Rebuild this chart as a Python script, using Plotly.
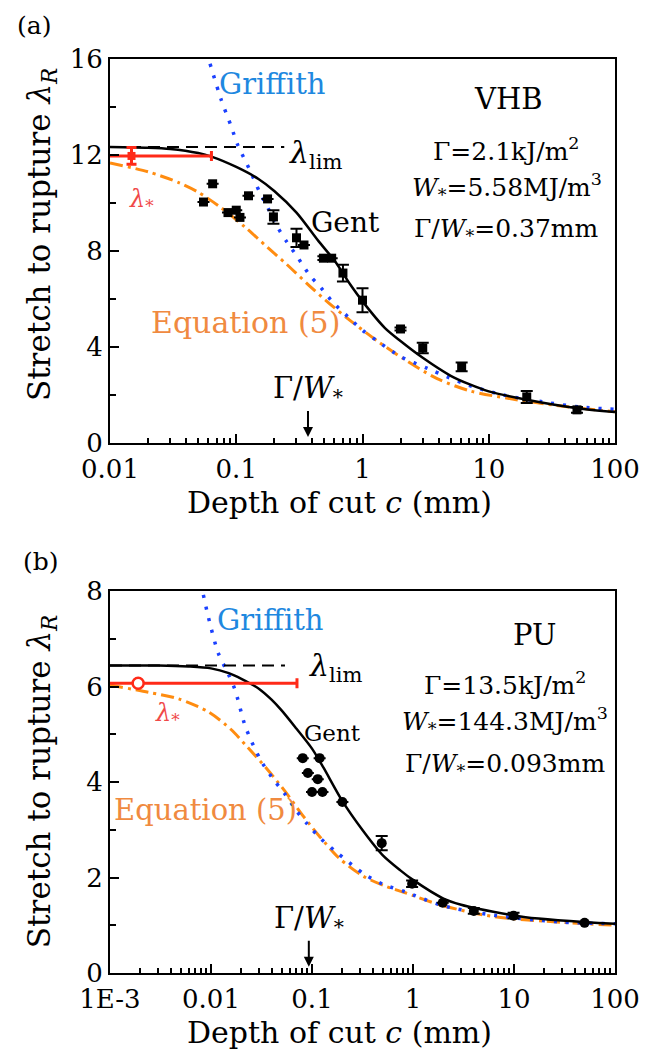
import numpy as np
import plotly.graph_objects as go

# ---------------- panel (a): VHB ----------------
a_gent_x = [0.01, 0.02, 0.03, 0.05, 0.0636, 0.1, 0.15, 0.2, 0.3, 0.45, 0.6, 0.8, 1.0,
            1.5, 2.0, 3.0, 5.0, 7.0, 10, 20, 50, 100]
a_gent_y = [12.33, 12.30, 12.25, 12.08, 11.93, 11.5, 11.0, 10.5, 9.6, 8.4, 7.6, 6.6, 5.9,
            4.8, 4.25, 3.55, 2.8, 2.45, 2.15, 1.8, 1.45, 1.29]

a_grif_x = [0.062, 0.076, 0.091, 0.103, 0.117, 0.13, 0.153, 0.178, 0.212, 0.25, 0.31,
            0.38, 0.47, 0.59, 0.77, 1.0, 1.35, 2.0, 3.3, 4.7, 6.8, 13, 27, 52, 100]
a_grif_y = [15.8, 14.3, 13.2, 12.4, 11.8, 11.3, 10.46, 9.8, 9.0, 8.4, 7.7,
            7.0, 6.46, 5.83, 5.25, 4.7, 4.2, 3.6, 3.1, 2.75, 2.42, 2.0, 1.71, 1.5, 1.4]

a_eq5_x = [0.01, 0.02, 0.035, 0.05, 0.076, 0.117, 0.177, 0.25, 0.38, 0.55, 0.8, 1.35,
           2.2, 3.9, 7.2, 15, 36, 100]
a_eq5_y = [11.67, 11.3, 10.85, 10.45, 9.8, 9.0, 8.15, 7.45, 6.55, 5.8, 5.1, 4.2,
           3.45, 2.68, 2.16, 1.84, 1.55, 1.3]

a_lim = 12.33
a_lim_x = [0.01, 0.24]

a_pts_x = [0.055, 0.065, 0.086, 0.1, 0.107, 0.125, 0.177, 0.197, 0.30, 0.344, 0.49,
           0.57, 0.70, 1.0, 2.0, 3.0, 6.1, 20, 50]
a_pts_y = [10.04, 10.8, 9.6, 9.7, 9.4, 10.3, 10.17, 9.42, 8.55, 8.25, 7.7,
           7.7, 7.08, 5.95, 4.75, 3.96, 3.17, 1.92, 1.38]
a_pts_err = [0, 0, 0, 0, 0, 0, 0, 0.28, 0.38, 0, 0.08,
             0, 0.35, 0.5, 0.06, 0.22, 0.18, 0.25, 0.12]

a_star_x = 0.0148
a_star_y = 11.96
a_star_err = 0.35
a_star_xmax = 0.0636

a_gw = 0.37

# ---------------- panel (b): PU ----------------
b_gent_x = [0.001, 0.003, 0.006, 0.01, 0.015, 0.02, 0.03, 0.04, 0.05, 0.07, 0.1, 0.13,
            0.2, 0.32, 0.5, 0.75, 1.0, 2.0, 3.0, 4.3, 13, 100]
b_gent_y = [6.44, 6.44, 6.42, 6.38, 6.28, 6.16, 5.95, 5.72, 5.5, 5.12, 4.7, 4.3,
            3.6, 2.98, 2.47, 2.15, 1.95, 1.56, 1.43, 1.35, 1.17, 1.03]

b_grif_x = [0.0084, 0.0094, 0.0118, 0.0147, 0.0173, 0.022, 0.031, 0.042, 0.053, 0.07,
            0.09, 0.12, 0.175, 0.34, 0.53, 0.84, 1.9, 6.3, 28, 100]
b_grif_y = [7.92, 7.46, 6.7, 6.28, 5.93, 5.15, 4.46, 4.04, 3.77, 3.4,
            3.12, 2.83, 2.53, 2.05, 1.84, 1.70, 1.42, 1.21, 1.07, 1.03]

b_eq5_x = [0.001, 0.0024, 0.0048, 0.0094, 0.0158, 0.023, 0.035, 0.053, 0.083, 0.12,
           0.187, 0.32, 0.53, 0.84, 1.9, 6.3, 30, 100]
b_eq5_y = [6.03, 5.88, 5.74, 5.47, 5.1, 4.73, 4.3, 3.83, 3.27, 2.85,
           2.4, 2.03, 1.82, 1.68, 1.42, 1.18, 1.06, 1.0]

b_lim = 6.44
b_lim_x = [0.001, 0.054]

b_pts_x = [0.081, 0.119, 0.091, 0.114, 0.1, 0.127, 0.2, 0.49, 0.98, 1.97, 4.0, 9.9, 50]
b_pts_y = [4.5, 4.5, 4.19, 4.06, 3.79, 3.79, 3.58, 2.72, 1.87, 1.47, 1.3, 1.2, 1.05]
b_pts_err = [0, 0, 0, 0, 0, 0, 0, 0.15, 0.07, 0, 0.06, 0.06, 0]

b_star_x = 0.0019
b_star_y = 6.07
b_star_xmax = 0.071

b_gw = 0.093

a_xtickvals = [0.01, 0.1, 1, 10, 100]
a_xticktext = ["0.01", "0.1", "1", "10", "100"]
b_xtickvals = [0.001, 0.01, 0.1, 1, 10, 100]
b_xticktext = ["1E-3", "0.01", "0.1", "1", "10", "100"]

FONT = "DejaVu Serif"
BLUE_LINE = "#1a40ff"
BLUE_TXT = "#1e88e0"
ORANGE_LINE = "#ff8c10"
ORANGE_TXT = "#f08a40"
RED = "#ff2a18"
RED_TXT = "#f04848"


def minor_vals(decades):
    return [m * 10.0 ** d for d in decades for m in range(2, 10)]


fig = go.Figure()


def add_panel(fig, xa, ya, gent_x, gent_y, grif_x, grif_y, eq5_x, eq5_y, lim, lim_x,
              pts_x, pts_y, pts_err, symbol, msize):
    fig.add_trace(go.Scatter(x=eq5_x, y=eq5_y, mode="lines", xaxis=xa, yaxis=ya,
                             line=dict(color=ORANGE_LINE, width=3, dash="13px,5px,3px,5px",
                                       shape="spline", smoothing=0.8),
                             showlegend=False))
    fig.add_trace(go.Scatter(x=grif_x, y=grif_y, mode="lines", xaxis=xa, yaxis=ya,
                             line=dict(color=BLUE_LINE, width=3.5, dash="3px,9px",
                                       shape="spline", smoothing=0.8),
                             showlegend=False))
    fig.add_trace(go.Scatter(x=lim_x, y=[lim, lim], mode="lines", xaxis=xa, yaxis=ya,
                             line=dict(color="black", width=2, dash="12px,7px"),
                             showlegend=False))
    fig.add_trace(go.Scatter(x=gent_x, y=gent_y, mode="lines", xaxis=xa, yaxis=ya,
                             line=dict(color="black", width=2.5, shape="spline",
                                       smoothing=0.8),
                             showlegend=False))
    fig.add_trace(go.Scatter(x=pts_x, y=pts_y, mode="markers", xaxis=xa, yaxis=ya,
                             marker=dict(symbol=symbol, size=msize, color="black"),
                             error_y=dict(type="data", array=pts_err, color="black",
                                          thickness=2, width=6),
                             showlegend=False))


add_panel(fig, "x", "y", a_gent_x, a_gent_y, a_grif_x, a_grif_y, a_eq5_x, a_eq5_y,
          a_lim, a_lim_x, a_pts_x, a_pts_y, a_pts_err, "square", 9)
add_panel(fig, "x2", "y2", b_gent_x, b_gent_y, b_grif_x, b_grif_y, b_eq5_x, b_eq5_y,
          b_lim, b_lim_x, b_pts_x, b_pts_y, b_pts_err, "circle", 10)

# lambda_* points with horizontal ranges
fig.add_trace(go.Scatter(x=[a_star_x], y=[a_star_y], mode="markers", xaxis="x", yaxis="y",
                         marker=dict(symbol="square", size=8, color=RED),
                         error_x=dict(type="data", array=[a_star_xmax - a_star_x],
                                      arrayminus=[a_star_x - 0.005], color=RED,
                                      thickness=3, width=5),
                         error_y=dict(type="data", array=[a_star_err], color=RED,
                                      thickness=3, width=5),
                         showlegend=False))
fig.add_trace(go.Scatter(x=[b_star_x], y=[b_star_y], mode="markers", xaxis="x2", yaxis="y2",
                         marker=dict(symbol="circle", size=11, color="white",
                                     line=dict(color=RED, width=2.5)),
                         error_x=dict(type="data", array=[b_star_xmax - b_star_x],
                                      arrayminus=[b_star_x - 0.0005], color=RED,
                                      thickness=3, width=5),
                         showlegend=False))

axis_common = dict(showline=True, linecolor="black", linewidth=2, mirror=True,
                   ticks="inside", ticklen=9, tickwidth=2, tickcolor="black",
                   showgrid=False, zeroline=False,
                   tickfont=dict(family=FONT, size=26, color="black"))

# the page body adds an 8px offset, so the figure is 8px smaller than the window
fig.update_layout(
    width=644, height=1051,
    margin=dict(l=102, r=29, t=51, b=86),
    plot_bgcolor="white", paper_bgcolor="white",
    font=dict(family=FONT, color="black"),
    xaxis=dict(type="log", range=[-2, 2], domain=[0, 1], anchor="y",
               tickvals=a_xtickvals, ticktext=a_xticktext,
               ticklabelstandoff=2,
               minor=dict(ticks="inside", ticklen=5, tickwidth=1.5, tickcolor="black",
                          tickvals=minor_vals(range(-2, 2)), showgrid=False),
               **axis_common),
    yaxis=dict(range=[0, 16], domain=[0.5799, 1], anchor="x", dtick=4,
               minor=dict(ticks="inside", ticklen=6, tickwidth=2, tickcolor="black",
                          dtick=2, showgrid=False),
               **axis_common),
    xaxis2=dict(type="log", range=[-3, 2], domain=[0, 1], anchor="y2",
                tickvals=b_xtickvals, ticktext=b_xticktext,
                ticklabelstandoff=2,
                minor=dict(ticks="inside", ticklen=5, tickwidth=1.5, tickcolor="black",
                           tickvals=minor_vals(range(-3, 2)), showgrid=False),
                **axis_common),
    yaxis2=dict(range=[0, 8], domain=[0, 0.4179], anchor="x2", dtick=2,
                minor=dict(ticks="inside", ticklen=6, tickwidth=2, tickcolor="black",
                           dtick=1, showgrid=False),
                **axis_common),
)


def note(text, x, y, xref, yref, size, color="black", xanchor="center", yanchor="middle",
         **kw):
    fig.add_annotation(text=text, x=x, y=y, xref=xref, yref=yref, showarrow=False,
                       xanchor=xanchor, yanchor=yanchor,
                       font=dict(family=FONT, size=size, color=color), **kw)


lg = np.log10

# panel labels and axis titles
note("(a)", -0.150, 1.0545, "paper", "paper", 25, yanchor="top")
note("(b)", -0.136, 0.4497, "paper", "paper", 25)
ytitle = "Stretch to rupture <i>λ<sub>R</sub></i>"
xtitle = "Depth of cut <i>c</i> (mm)"
note(ytitle, -0.1365, 0.8085, "paper", "paper", 31, textangle=-90)
note(ytitle, -0.1365, 0.210, "paper", "paper", 31, textangle=-90)
note(xtitle, 0.454, 0.5145, "paper", "paper", 30)
note(xtitle, 0.454, -0.0655, "paper", "paper", 30)

# panel (a) texts
note("Griffith", -0.713, 14.96, "x", "y", 29, BLUE_TXT)
note("<i>λ</i><sub>lim</sub>", -0.596, 12.0, "x", "y", 30, xanchor="left")
note("<i>λ</i><sub>*</sub>", -1.75, 10.1, "x", "y", 24, RED_TXT)
note("Gent", -0.136, 9.17, "x", "y", 28)
note("Equation (5)", -0.924, 5.04, "x", "y", 30, ORANGE_TXT)
note("VHB", 1.158, 14.33, "x", "y", 29)
note("Γ=2.1kJ/m<sup>2</sup>", 1.142, 12.21, "x", "y", 25)
note("<i>W</i><sub>*</sub>=5.58MJ/m<sup>3</sup>", 1.142, 10.67, "x", "y", 25)
note("Γ/<i>W</i><sub>*</sub>=0.37mm", 1.142, 8.875, "x", "y", 25)
fig.add_annotation(text="Γ/<i>W</i><sub>*</sub>", x=lg(a_gw), y=0.25, xref="x", yref="y",
                   showarrow=True, ax=0, ay=-26, arrowhead=2, arrowsize=1, arrowwidth=2,
                   arrowcolor="black", yanchor="bottom",
                   font=dict(family=FONT, size=29, color="black"))

# panel (b) texts
note("Griffith", -1.411, 7.39, "x2", "y2", 29, BLUE_TXT)
note("<i>λ</i><sub>lim</sub>", -1.051, 6.39, "x2", "y2", 30, xanchor="left")
note("<i>λ</i><sub>*</sub>", -2.435, 5.42, "x2", "y2", 24, RED_TXT)
note("Gent", -0.797, 5.03, "x2", "y2", 23)
note("Equation (5)", -2.055, 3.41, "x2", "y2", 29, ORANGE_TXT)
note("PU", 1.2, 7.08, "x2", "y2", 29)
note("Γ=13.5kJ/m<sup>2</sup>", 0.908, 6.07, "x2", "y2", 25)
note("<i>W</i><sub>*</sub>=144.3MJ/m<sup>3</sup>", 0.908, 5.28, "x2", "y2", 25)
note("Γ/<i>W</i><sub>*</sub>=0.093mm", 0.908, 4.36, "x2", "y2", 25)
fig.add_annotation(text="Γ/<i>W</i><sub>*</sub>", x=lg(b_gw), y=0.13, xref="x2", yref="y2",
                   showarrow=True, ax=0, ay=-26, arrowhead=2, arrowsize=1, arrowwidth=2,
                   arrowcolor="black", yanchor="bottom",
                   font=dict(family=FONT, size=29, color="black"))

fig.write_html("out.html")
